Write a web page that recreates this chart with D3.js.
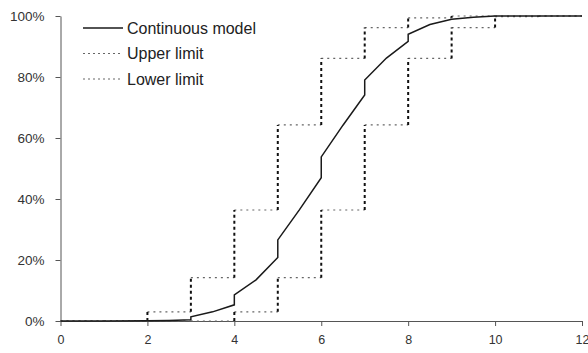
<!DOCTYPE html>
<html>
<head>
<meta charset="utf-8">
<script src="https://cdn.jsdelivr.net/npm/d3@7"></script>
<style>
    body { margin: 0; background: #fff; }
    svg { display: block; font-family: "Liberation Sans", Arial, sans-serif; }
</style>
</head>
<body>
<div id="chart"></div>
<script>
// Data
const xTicks = [0, 2, 4, 6, 8, 10, 12];
const yTicks = [0, 0.2, 0.4, 0.6, 0.8, 1.0];

// step limits, value holds from x until next x
const stepX = [0, 1, 2, 3, 4, 5, 6, 7, 8, 9, 10, 11, 12];
const upperLimit = [0, 0, 0.03, 0.142, 0.364, 0.643, 0.861, 0.962, 0.994, 1, 1, 1, 1];
const lowerLimit = [0, 0, 0, 0, 0.03, 0.142, 0.364, 0.643, 0.861, 0.962, 0.998, 1, 1];

// continuous model (jumps at the integers)
const modelX = [0, 1, 2, 2.5, 3, 3, 3.5, 4, 4, 4.5, 5, 5, 5.5, 6, 6, 6.5, 7, 7, 7.5, 8, 8, 8.5, 9, 9.5, 10, 12];
const modelY = [0, 0, 0.0005, 0.002, 0.004, 0.014, 0.03, 0.053, 0.086, 0.135, 0.208, 0.266, 0.365, 0.47, 0.538, 0.642, 0.741, 0.79, 0.862, 0.917, 0.94, 0.972, 0.989, 0.996, 1, 1];

const legendItems = [
    { name: 'Continuous model', dash: null },
    { name: 'Upper limit', dash: '2,3' },
    { name: 'Lower limit', dash: '2,3' }
];

// Configuration
const config = {
    width: 588,
    height: 353,
    margin: { top: 16, right: 6, bottom: 32, left: 60.5 }
};

const svg = d3.select('#chart')
    .append('svg')
    .attr('width', config.width)
    .attr('height', config.height);

const xScale = d3.scaleLinear()
    .domain([0, 12])
    .range([config.margin.left, config.width - config.margin.right]);

const yScale = d3.scaleLinear()
    .domain([0, 1])
    .range([config.height - config.margin.bottom, config.margin.top]);

// Axes
const xAxis = svg.append('g')
    .attr('transform', `translate(0,${yScale(0)})`)
    .call(d3.axisBottom(xScale).tickValues(xTicks).tickSize(5).tickPadding(9).tickSizeOuter(0));

const yAxis = svg.append('g')
    .attr('transform', `translate(${xScale(0)},0)`)
    .call(d3.axisLeft(yScale).tickValues(yTicks).tickSize(5).tickPadding(11).tickSizeOuter(0)
        .tickFormat(d3.format('.0%')));

[xAxis, yAxis].forEach(g => {
    g.select('.domain').attr('stroke', '#555');
    g.selectAll('.tick line').attr('stroke', '#555');
    g.selectAll('.tick text')
        .attr('fill', '#333')
        .style('font-family', '"Liberation Sans", Arial, sans-serif');
});
xAxis.selectAll('.tick text').style('font-size', '12.5px');
yAxis.selectAll('.tick text').style('font-size', '13.5px');

// Step lines: light horizontal runs, heavier vertical risers
function drawSteps(values) {
    const runs = values.slice(0, -1).map((v, i) => [[stepX[i], v], [stepX[i + 1], v]]);
    const risers = values.map((v, i) => [[stepX[i], i ? values[i - 1] : v], [stepX[i], v]])
        .filter(s => s[0][1] !== s[1][1]);
    const seg = d3.line().x(d => xScale(d[0])).y(d => yScale(d[1]));

    svg.append('g').selectAll('path')
        .data(runs)
        .join('path')
        .attr('fill', 'none')
        .attr('stroke', '#666')
        .attr('stroke-width', 1.2)
        .attr('stroke-dasharray', '2,4')
        .attr('d', seg);

    svg.append('g').selectAll('path')
        .data(risers)
        .join('path')
        .attr('fill', 'none')
        .attr('stroke', '#111')
        .attr('stroke-width', 2)
        .attr('stroke-dasharray', '3,3')
        .attr('d', seg);
}
drawSteps(lowerLimit);
drawSteps(upperLimit);

// Continuous model
const modelLine = d3.line()
    .x((d, i) => xScale(modelX[i]))
    .y(d => yScale(d));

svg.append('path')
    .datum(modelY)
    .attr('fill', 'none')
    .attr('stroke', '#1a1a1a')
    .attr('stroke-width', 1.5)
    .attr('d', modelLine);

// Legend
const legend = svg.append('g').attr('transform', 'translate(83,28)');
legendItems.forEach((item, i) => {
    const row = legend.append('g').attr('transform', `translate(0,${i * 25.5})`);
    row.append('line')
        .attr('x1', 0).attr('x2', 40)
        .attr('y1', 0).attr('y2', 0)
        .attr('stroke', item.dash ? '#666' : '#1a1a1a')
        .attr('stroke-width', item.dash ? 1 : 1.5)
        .attr('stroke-dasharray', item.dash);
    row.append('text')
        .attr('x', 44)
        .attr('y', 0)
        .attr('dy', '0.35em')
        .attr('fill', '#222')
        .style('font-size', '16px')
        .text(item.name);
});
</script>
</body>
</html>
